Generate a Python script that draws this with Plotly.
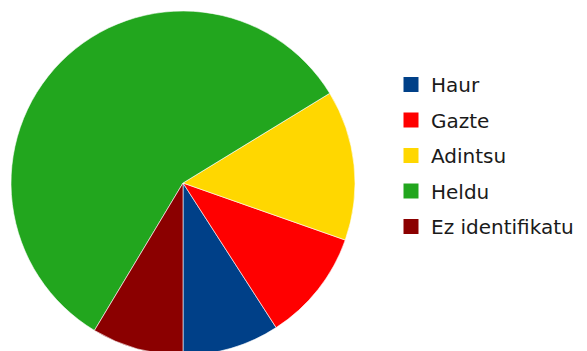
import plotly.graph_objects as go

labels = ['Haur', 'Gazte', 'Adintsu', 'Heldu', 'Ez identifikatu']
values = [9.1, 10.5, 14.1, 57.6, 8.6]
colors = ['#004088', '#ff0000', '#ffd700', '#22a61e', '#8b0000']

# counterclockwise pies in plotly put the first slice on the clockwise side of
# `rotation`, so back it off by the first slice so Haur starts at 6 o'clock
start = 180 - 360 * values[0] / sum(values)

fig = go.Figure()

fig.add_trace(go.Pie(
    labels=labels,
    values=values,
    sort=False,
    direction='counterclockwise',
    rotation=start,
    textinfo='none',
    hoverinfo='label+percent',
    marker=dict(colors=colors, line=dict(color='rgba(255,255,255,0.6)', width=1)),
    domain=dict(x=[3 / 587, 347 / 587], y=[4 / 351, 348 / 351]),
    showlegend=False,
))

# legend entries as square markers, one group each so the rows get spaced out
for name, c in zip(labels, colors):
    fig.add_trace(go.Scatter(
        x=[None], y=[None],
        mode='markers',
        marker=dict(symbol='square', size=15, color=c),
        name=name,
        legendgroup=name,
        showlegend=True,
    ))

fig.update_layout(
    width=587,
    height=351,
    margin=dict(l=0, r=0, t=0, b=0),
    paper_bgcolor='white',
    plot_bgcolor='white',
    xaxis=dict(visible=False),
    yaxis=dict(visible=False),
    legend=dict(
        x=383 / 587, xanchor='left',
        y=1 - 57 / 351, yanchor='top',
        font=dict(family='DejaVu Sans', size=20, color='#1a1a1a'),
        tracegroupgap=6.5,
        bgcolor='rgba(0,0,0,0)',
    ),
)

fig.write_html("out.html")
